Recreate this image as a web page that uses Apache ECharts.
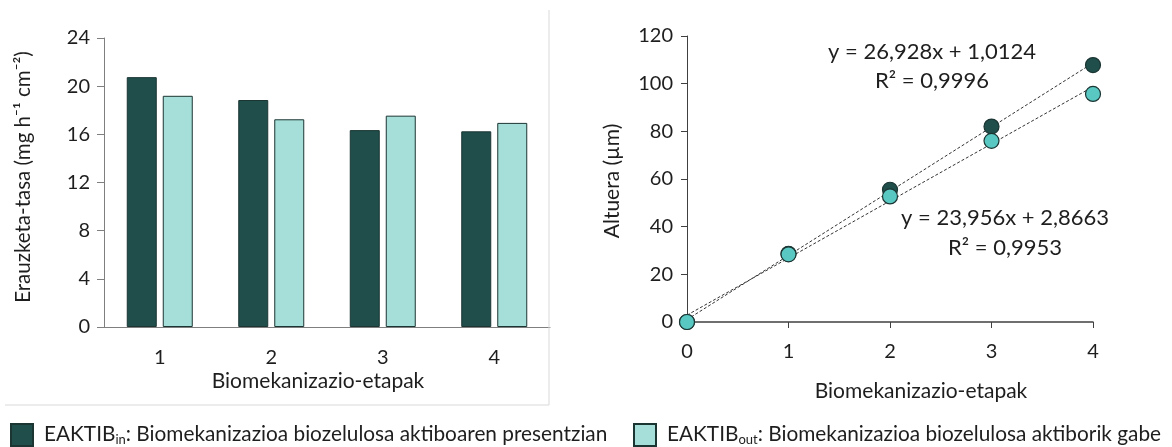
<!DOCTYPE html>
<html>
<head>
<meta charset="utf-8">
<script src="https://cdn.jsdelivr.net/npm/echarts@6/dist/echarts.min.js"></script>
<style>
  html, body { margin: 0; padding: 0; background: #fff; }
  #main { width: 1172px; height: 447px; }
</style>
</head>
<body>
<div id="main"></div>
<script>
var stages = ['1', '2', '3', '4'];
var rateIn = [20.75, 18.85, 16.35, 16.25];
var rateOut = [19.2, 17.25, 17.55, 16.95];

var stepX = [0, 1, 2, 3, 4];
var heightIn = [0, 28.6, 55.5, 82, 107.8];
var heightOut = [0, 28.4, 52.7, 76, 95.7];

// trend line end points (x = 0 and x = 4)
var trendIn = [[0, 1.01], [4, 108.7]];
var trendOut = [[0, 2.87], [4, 98.7]];

var seriesNames = ['EAKTIB_in', 'EAKTIB_out'];

var darkGreen = '#1f4e4b';
var lightGreen = '#a6dfd9';
var lightPoint = '#5ac8c2';
var edge = '#1b3533';
var font = 'Lato';
var txt = '#1e1e1e';

var myChart = echarts.init(document.getElementById('main'));

function zip(xs, ys) {
    var out = [];
    for (var i = 0; i < xs.length; i++) {
        out.push([xs[i], ys[i]]);
    }
    return out;
}

function legendLabel(name) {
    if (name == 'EAKTIB_in') {
        return '{a|EAKTIB}{s|in}{a|: Biomekanizazioa biozelulosa aktiboaren presentzian}';
    }
    return '{a|EAKTIB}{s|out}{a|: Biomekanizazioa biozelulosa aktiborik gabe}';
}

// subscript: main text sits at top of a taller line, sub text at its bottom
var legendText = {
    fontFamily: font,
    color: txt,
    padding: [0, 0, 0, 6],
    rich: {
        a: { fontFamily: font, fontSize: 20.8, color: txt, lineHeight: 22, verticalAlign: 'top' },
        s: { fontFamily: font, fontSize: 13, color: txt, lineHeight: 13, verticalAlign: 'bottom', padding: [12, 0, 0, 0] }
    }
};

option = {
    animation: false,
    textStyle: { fontFamily: font },
    legend: [{
        data: [seriesNames[0]],
        icon: 'rect',
        left: 10,
        top: 421,
        padding: 0,
        itemWidth: 22,
        itemHeight: 22,
        formatter: legendLabel,
        textStyle: legendText
    }, {
        data: [seriesNames[1]],
        icon: 'rect',
        left: 633,
        top: 421,
        padding: 0,
        itemWidth: 22,
        itemHeight: 22,
        formatter: legendLabel,
        textStyle: legendText
    }],
    grid: [
        { left: 104, top: 38, width: 446, height: 289 },
        { left: 687, top: 36, width: 406, height: 286 }
    ],
    xAxis: [{
        type: 'category',
        gridIndex: 0,
        data: stages,
        axisLine: { lineStyle: { color: '#7f7f7f', width: 1 } },
        axisTick: { show: false },
        axisLabel: { fontFamily: font, fontSize: 20, color: txt, margin: 21 }
    }, {
        type: 'value',
        gridIndex: 1,
        min: 0,
        max: 4,
        interval: 1,
        splitLine: { show: false },
        axisLine: { onZero: false, lineStyle: { color: '#404040', width: 1.5 } },
        axisTick: { show: true, length: 6, lineStyle: { color: '#404040' } },
        axisLabel: { fontFamily: font, fontSize: 20, color: txt, margin: 20 }
    }],
    yAxis: [{
        type: 'value',
        gridIndex: 0,
        min: 0,
        max: 24,
        interval: 4,
        splitLine: { show: false },
        axisLine: { show: true, lineStyle: { color: '#7f7f7f', width: 1 } },
        axisTick: { show: true, length: 7, lineStyle: { color: '#7f7f7f' } },
        axisLabel: { fontFamily: font, fontSize: 20, color: txt, margin: 14 }
    }, {
        type: 'value',
        gridIndex: 1,
        min: 0,
        max: 120,
        interval: 20,
        splitLine: { show: false },
        axisLine: { show: true, onZero: false, lineStyle: { color: '#404040', width: 1 } },
        axisTick: { show: true, length: 6, lineStyle: { color: '#404040' } },
        axisLabel: { fontFamily: font, fontSize: 20, color: txt, margin: 14 }
    }],
    graphic: [
        { type: 'line', shape: { x1: 549, y1: 10, x2: 549, y2: 405 }, style: { stroke: '#d9d9d9', lineWidth: 1 }, z: 100 },
        { type: 'line', shape: { x1: 5, y1: 405, x2: 549, y2: 405 }, style: { stroke: '#d9d9d9', lineWidth: 1 }, z: 100 },
        {
            type: 'text', x: 23, y: 177, rotation: Math.PI / 2,
            style: { text: 'Erauzketa-tasa (mg h⁻¹ cm⁻²)', fontFamily: font, fontSize: 20.5, fill: txt, align: 'center', verticalAlign: 'middle' }
        },
        {
            type: 'text', x: 318, y: 381,
            style: { text: 'Biomekanizazio-etapak', fontFamily: font, fontSize: 21, fill: txt, align: 'center', verticalAlign: 'middle' }
        },
        {
            type: 'text', x: 612, y: 181, rotation: Math.PI / 2,
            style: { text: 'Altuera (µm)', fontFamily: font, fontSize: 21, fill: txt, align: 'center', verticalAlign: 'middle' }
        },
        {
            type: 'text', x: 921, y: 391,
            style: { text: 'Biomekanizazio-etapak', fontFamily: font, fontSize: 21, fill: txt, align: 'center', verticalAlign: 'middle' }
        },
        {
            type: 'text', x: 932, y: 52,
            style: { text: 'y = 26,928x + 1,0124', fontFamily: font, fontSize: 22, fill: txt, align: 'center', verticalAlign: 'middle' }
        },
        {
            type: 'text', x: 932, y: 81,
            style: { text: 'R² = 0,9996', fontFamily: font, fontSize: 22, fill: txt, align: 'center', verticalAlign: 'middle' }
        },
        {
            type: 'text', x: 1005, y: 218,
            style: { text: 'y = 23,956x + 2,8663', fontFamily: font, fontSize: 22, fill: txt, align: 'center', verticalAlign: 'middle' }
        },
        {
            type: 'text', x: 1005, y: 248,
            style: { text: 'R² = 0,9953', fontFamily: font, fontSize: 22, fill: txt, align: 'center', verticalAlign: 'middle' }
        }
    ],
    series: [{
        name: seriesNames[0],
        type: 'bar',
        xAxisIndex: 0,
        yAxisIndex: 0,
        barWidth: 30,
        barGap: '20%',
        itemStyle: { color: darkGreen, borderColor: edge, borderWidth: 1 },
        data: rateIn
    }, {
        name: seriesNames[1],
        type: 'bar',
        xAxisIndex: 0,
        yAxisIndex: 0,
        barWidth: 30,
        barGap: '20%',
        itemStyle: { color: lightGreen, borderColor: edge, borderWidth: 1 },
        data: rateOut
    }, {
        name: 'trend_in',
        type: 'line',
        xAxisIndex: 1,
        yAxisIndex: 1,
        symbol: 'none',
        silent: true,
        lineStyle: { color: '#333', width: 1, type: [3, 2] },
        data: trendIn,
        z: 1
    }, {
        name: 'trend_out',
        type: 'line',
        xAxisIndex: 1,
        yAxisIndex: 1,
        symbol: 'none',
        silent: true,
        lineStyle: { color: '#333', width: 1, type: [3, 2] },
        data: trendOut,
        z: 1
    }, {
        name: 'height_in',
        type: 'scatter',
        xAxisIndex: 1,
        yAxisIndex: 1,
        symbolSize: 15,
        itemStyle: { color: darkGreen, borderColor: edge, borderWidth: 1.2, opacity: 1 },
        data: zip(stepX, heightIn),
        z: 3
    }, {
        name: 'height_out',
        type: 'scatter',
        xAxisIndex: 1,
        yAxisIndex: 1,
        symbolSize: 15,
        itemStyle: { color: lightPoint, borderColor: edge, borderWidth: 1.2, opacity: 1 },
        data: zip(stepX, heightOut),
        z: 4
    }]
};
myChart.setOption(option);

window.onresize = function () {
    myChart.resize();
};
</script>
</body>
</html>
